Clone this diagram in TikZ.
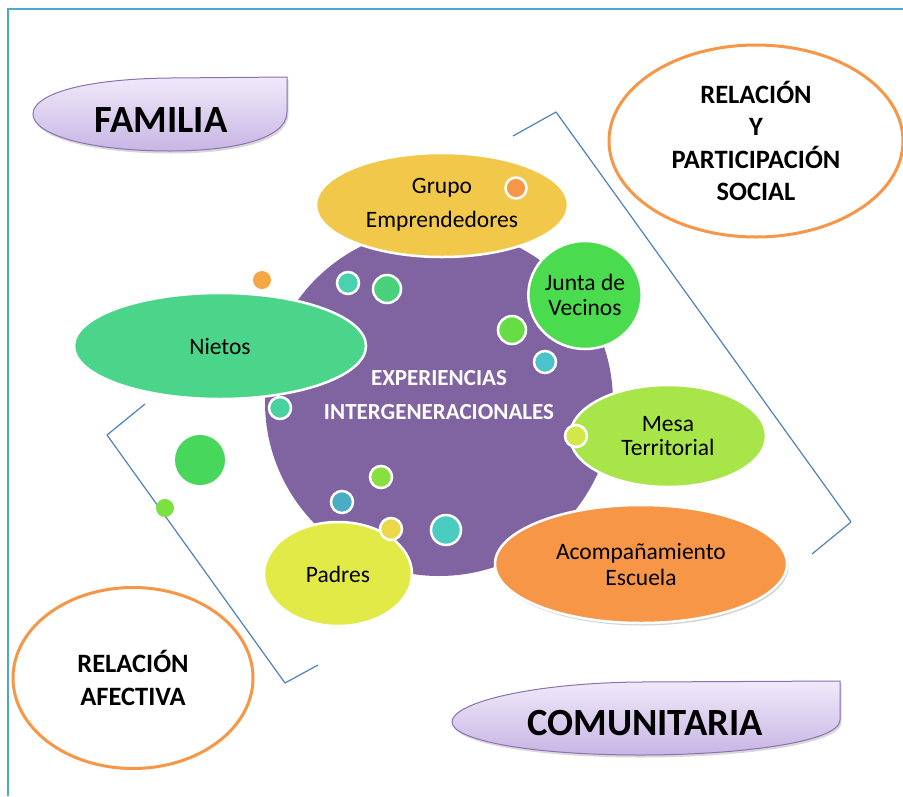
\documentclass[tikz,border=0pt]{standalone}
\usepackage{fontspec}
\setmainfont{Carlito}
\usetikzlibrary{shapes.geometric,shadows}
\definecolor{cpurple}{HTML}{8064A2}
\definecolor{cgrupo}{HTML}{F1C84A}
\definecolor{cjunta}{HTML}{4BDB4F}
\definecolor{cnietos}{HTML}{4AD58A}
\definecolor{cmesa}{HTML}{A8E548}
\definecolor{corange}{HTML}{F79646}
\definecolor{cpadres}{HTML}{E2EA48}
\definecolor{cframe}{HTML}{4BACC6}
\definecolor{cbracket}{HTML}{4F81BD}
\definecolor{cbantop}{HTML}{EFEAF9}
\definecolor{cbanbot}{HTML}{C8B5E4}
\definecolor{cbanline}{HTML}{8C70B0}
\definecolor{dorange}{HTML}{F4A742}
\definecolor{dteal}{HTML}{4AD2B0}
\definecolor{dgreen}{HTML}{48D07A}
\definecolor{dlime}{HTML}{66DD44}
\definecolor{dcyan}{HTML}{4BC3CC}
\definecolor{dmint}{HTML}{48D2A0}
\definecolor{dyg}{HTML}{D2E84A}
\definecolor{dlg}{HTML}{88E040}
\definecolor{dblue}{HTML}{4BACC6}
\definecolor{dyellow}{HTML}{EAD84A}
\definecolor{dturq}{HTML}{4ACCC0}
\definecolor{dbig}{HTML}{47D75A}
\definecolor{dsmall}{HTML}{7BE040}
\begin{document}
\begin{tikzpicture}[x=1pt,y=-1pt,
  blob/.style={ellipse, draw=white, line width=2.5pt, inner sep=0pt, align=center,
    text=black, font=\fontsize{23.5}{26}\selectfont},
  dot/.style={circle, draw=white, line width=2.5pt, inner sep=0pt},
  plaindot/.style={circle, inner sep=0pt},
  ring/.style={ellipse, draw=corange, line width=3pt, inner sep=0pt, align=center,
    font=\fontsize{26.5}{32.5}\selectfont\bfseries},
  banner/.style={draw=cbanline, line width=1pt, top color=cbantop, bottom color=cbanbot,
    drop shadow={opacity=0.3, shadow xshift=1.5pt, shadow yshift=-2.5pt}},
  bannertext/.style={font=\fontsize{38.5}{40}\selectfont\bfseries},
  bracketline/.style={draw=cbracket, line width=1.2pt, line join=round}
]
\useasboundingbox (0,0) rectangle (903,796);
\fill[white] (0,0) rectangle (903,796);
% frame
\draw[cframe, line width=2pt] (903,9) -- (8,9) -- (8,796);

% brackets
\draw[bracketline] (513,136) -- (556,112) -- (851,522) -- (812,554);
\draw[bracketline] (145,404) -- (107,435) -- (285,683) -- (318,665);

% central circle
\node[circle, fill=cpurple, minimum size=348pt, inner sep=0pt] (exp) at (439,402) {};

% satellite ellipses
\node[blob, fill=cgrupo, minimum width=252pt, minimum height=104pt, font=\fontsize{23.5}{34}\selectfont] (grupo) at (442,205) {Grupo\\Emprendedores};
\node[blob, fill=cjunta, minimum width=112pt, minimum height=108pt, font=\fontsize{23.5}{24.5}\selectfont] (junta) at (585,295) {Junta de\\Vecinos};
\node[blob, fill=cnietos, minimum width=292pt, minimum height=106pt] (nietos) at (220,346) {Nietos};
\node[blob, fill=cmesa, minimum width=196pt, minimum height=102pt, font=\fontsize{23.5}{24.5}\selectfont] (mesa) at (668,436) {Mesa\\Territorial};
\node[blob, fill=corange, minimum width=292pt, minimum height=118pt, font=\fontsize{23.5}{26}\selectfont,
  drop shadow={opacity=0.35, shadow xshift=1.5pt, shadow yshift=-2.5pt}] (acomp) at (641,564) {Acompañamiento\\Escuela};
\node[blob, fill=cpadres, minimum width=148pt, minimum height=104pt] (padres) at (338,574) {Padres};

% central text
\node[text=white, align=center, font=\fontsize{23}{34}\selectfont\bfseries] (expt) at (439,395) {EXPERIENCIAS\\INTERGENERACIONALES};

% small dots
\node[dot, fill=corange, minimum size=21pt] (d1) at (516,188) {};
\node[plaindot, fill=dorange, minimum size=18pt] (d2) at (262,280) {};
\node[dot, fill=dteal, minimum size=22pt] (d3) at (348,283) {};
\node[dot, fill=dgreen, minimum size=28pt] (d4) at (387,289) {};
\node[dot, fill=dlime, minimum size=28pt] (d5) at (512,330) {};
\node[dot, fill=dcyan, minimum size=22pt] (d6) at (545,362) {};
\node[dot, fill=dmint, minimum size=22pt] (d7) at (280,408) {};
\node[dot, fill=dyg, minimum size=22pt] (d8) at (576,436) {};
\node[dot, fill=dlg, minimum size=22pt] (d9) at (381,477) {};
\node[dot, fill=dblue, minimum size=22pt] (d10) at (342,502) {};
\node[dot, fill=dyellow, minimum size=22pt] (d11) at (391,529) {};
\node[dot, fill=dturq, minimum size=30pt] (d12) at (446,530) {};
\node[plaindot, fill=dbig, minimum size=50pt] (d13) at (200,460) {};
\node[plaindot, fill=dsmall, minimum size=18pt] (d14) at (165,508) {};

% outline ellipses
\node[ring, minimum width=294pt, minimum height=192pt] (social) at (756,141) {RELACIÓN\\Y\\PARTICIPACIÓN\\SOCIAL};
\node[ring, minimum width=240pt, minimum height=181pt] (afectiva) at (133,678) {RELACIÓN\\AFECTIVA};

% banners
\path[banner] (287,77) -- (287,112) .. controls (287,140) and (230,151) .. (170,151)
  .. controls (90,151) and (33,135) .. (33,114) .. controls (33,95) and (80,79) .. (170,78) -- cycle;
\node[bannertext] (familia) at (161,120) {FAMILIA};
\path[banner] (840,681) -- (840,720) .. controls (840,742) and (740,755) .. (640,755)
  .. controls (530,755) and (452,740) .. (452,722) .. controls (452,703) and (530,683) .. (640,682) -- cycle;
\node[bannertext] (comunitaria) at (645,723) {COMUNITARIA};
\end{tikzpicture}
\end{document}
